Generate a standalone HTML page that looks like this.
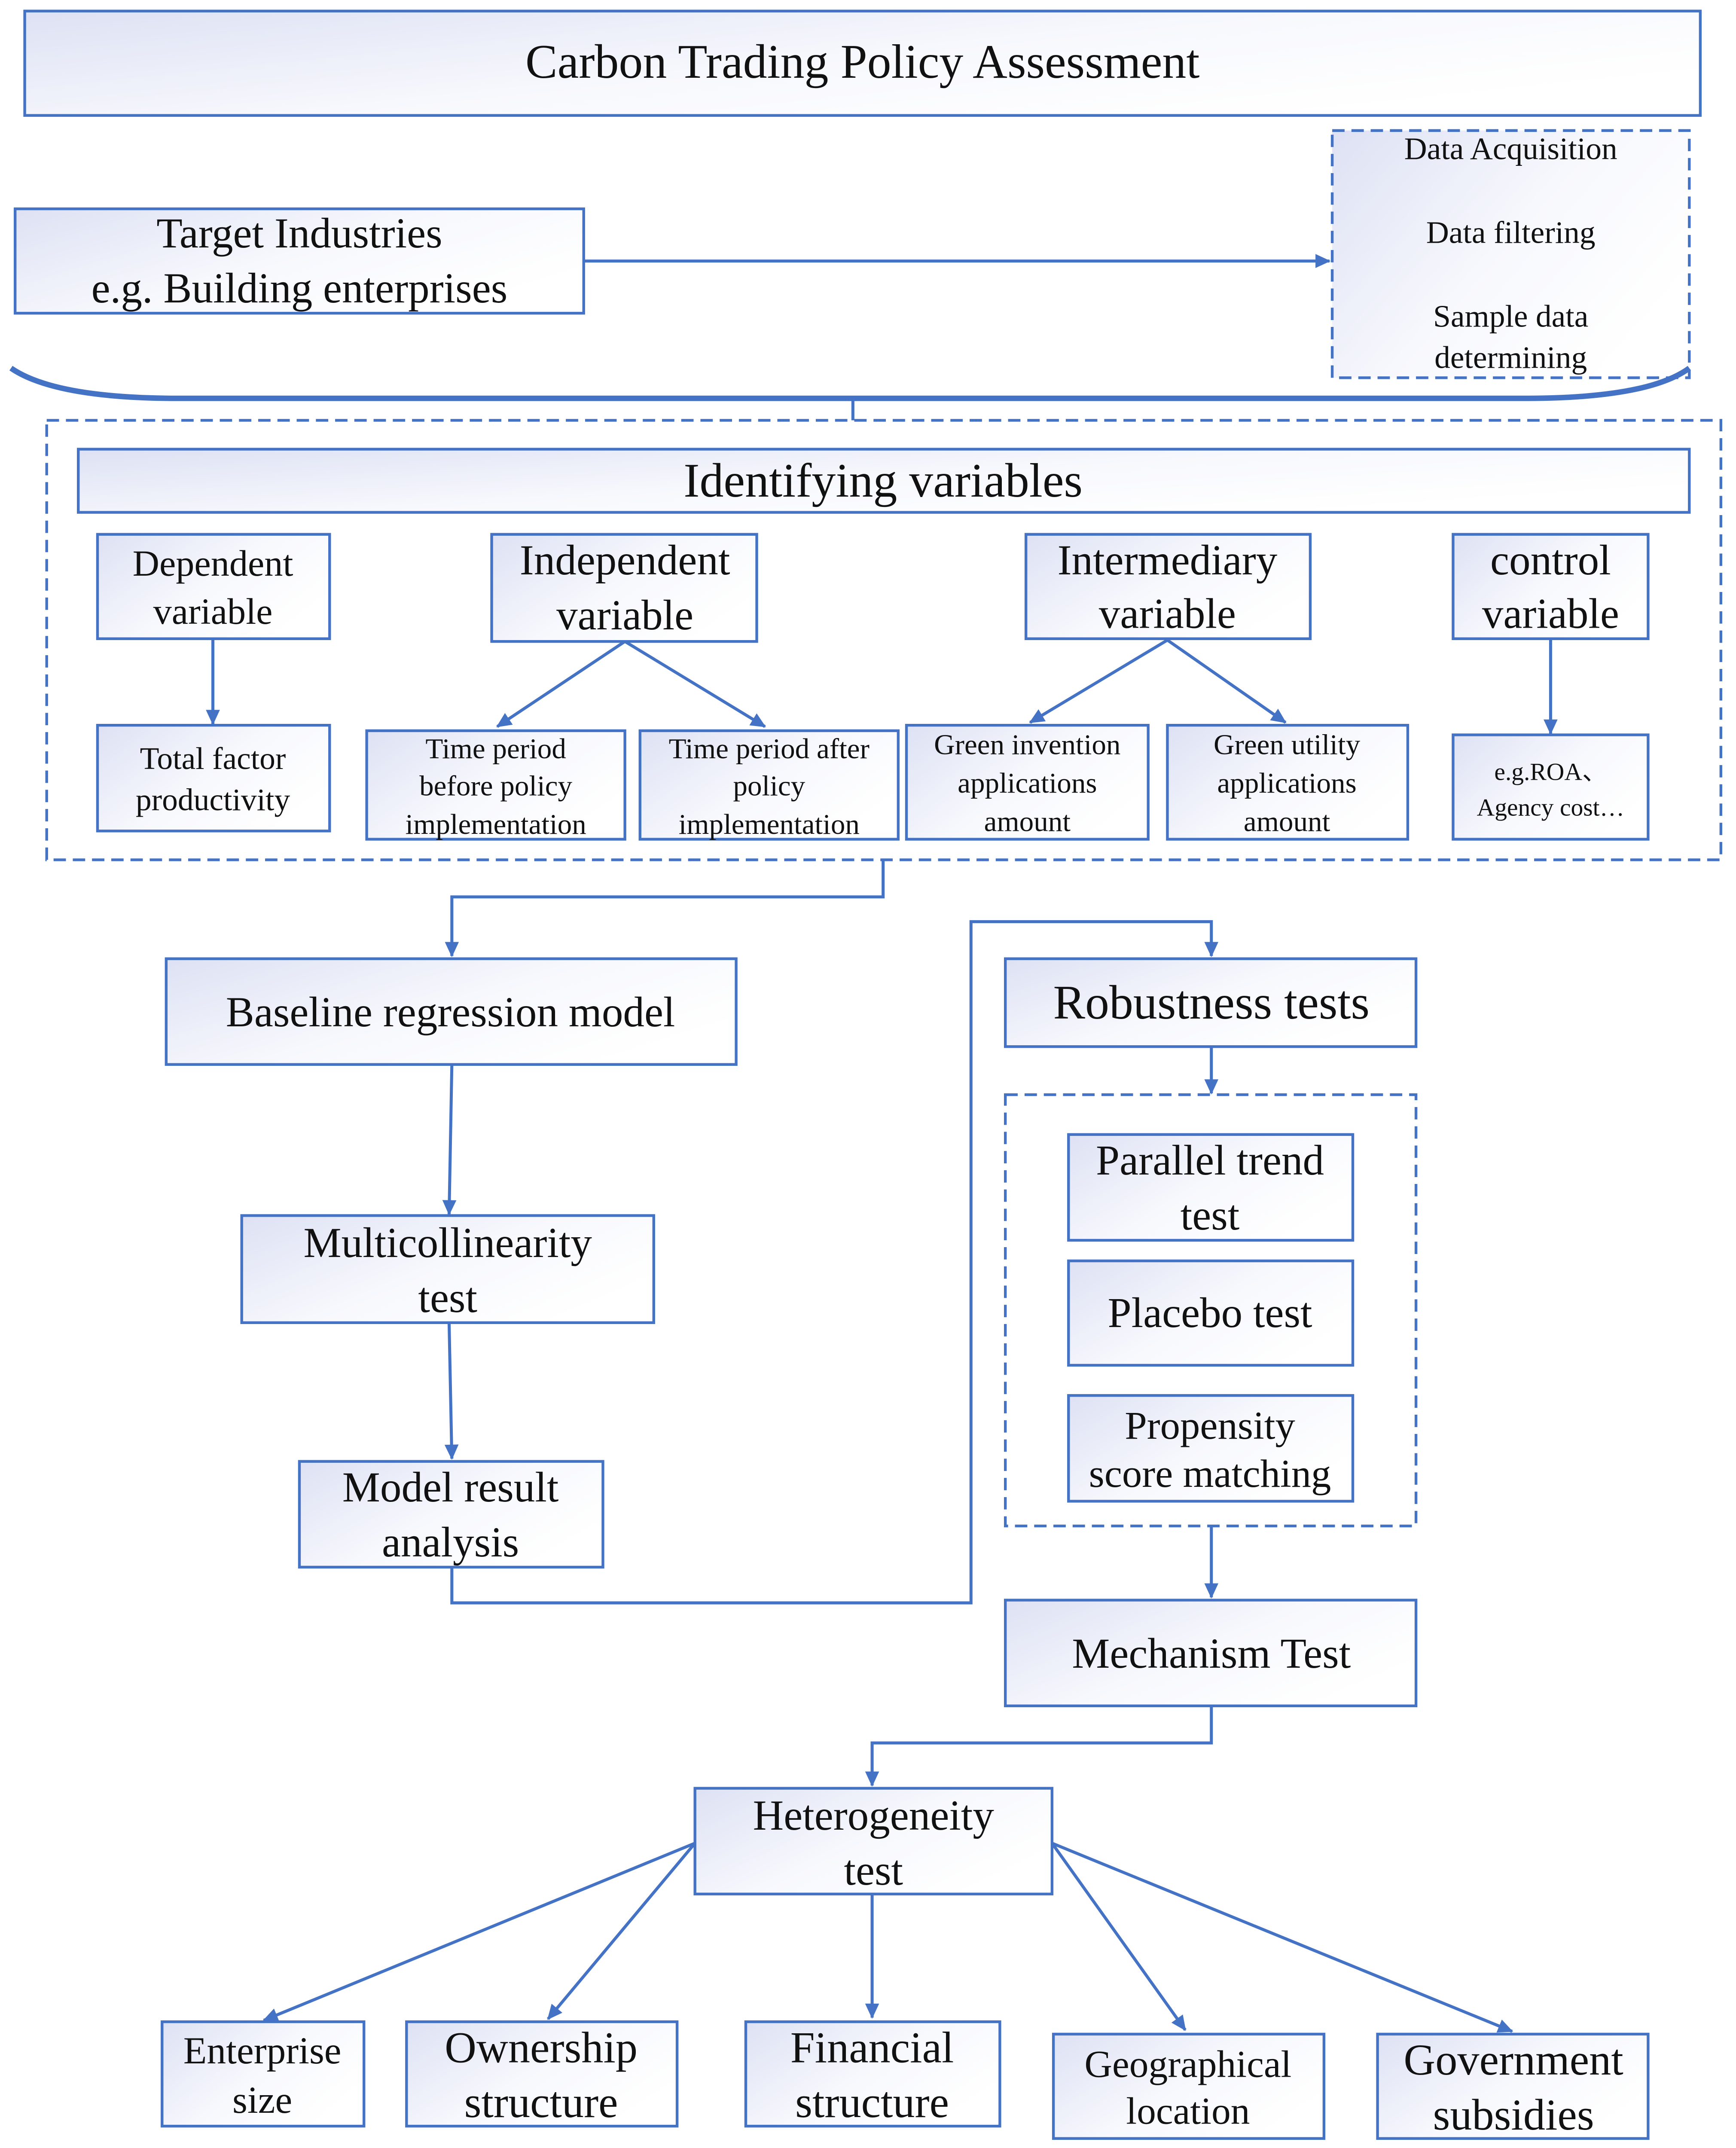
<!DOCTYPE html>
<html><head><meta charset="utf-8"><style>html,body{margin:0;padding:0;background:#fff;width:4041px;height:5010px;overflow:hidden}svg{display:block}</style></head><body>
<svg xmlns="http://www.w3.org/2000/svg" width="4041" height="5010" viewBox="0 0 1264 1567">
<defs>
<linearGradient id="g" x1="0" y1="0" x2="1" y2="0.6">
<stop offset="0" stop-color="#dde1f3"/><stop offset="0.55" stop-color="#f7f8fd"/><stop offset="1" stop-color="#ffffff"/></linearGradient>
<marker id="a" viewBox="0 0 10 10" refX="9" refY="5" markerWidth="8.5" markerHeight="8.5" orient="auto" markerUnits="userSpaceOnUse" overflow="visible">
<path d="M-3,-1 L10,5 L-3,11 Z" fill="#4472C4"/></marker>
</defs>
<style>
.b{fill:url(#g);stroke:#4472C4;stroke-width:2}
.d{fill:none;stroke:#4472C4;stroke-width:2;stroke-dasharray:9,5}
.l{fill:none;stroke:#4472C4;stroke-width:2.2}
text{font-family:"Liberation Serif",serif;fill:#111;text-anchor:middle;dominant-baseline:central}
</style>
<rect x="0" y="0" width="1264" height="1567" fill="#fff"/>
<rect class="b" x="18" y="8" width="1220" height="76"/>
<text x="628" y="45" font-size="35">Carbon Trading Policy Assessment</text>
<rect class="b" x="11" y="152" width="414" height="76"/>
<text x="218" y="170" font-size="31">Target Industries</text>
<text x="218" y="210" font-size="31">e.g. Building enterprises</text>
<line class="l" x1="425" y1="190" x2="968" y2="190" marker-end="url(#a)"/>
<rect class="d" x="970" y="95" width="260" height="180" style="fill:url(#g)"/>
<text x="1100" y="108" font-size="23">Data Acquisition</text>
<text x="1100" y="169" font-size="23">Data filtering</text>
<text x="1100" y="230" font-size="23">Sample data</text>
<text x="1100" y="260" font-size="23">determining</text>
<path d="M8,268 Q40,290 130,290 L1110,290 Q1200,290 1230,268" fill="none" stroke="#4472C4" stroke-width="4"/>
<line class="l" x1="621" y1="290" x2="621" y2="306" stroke-width="3"/>
<rect class="d" x="34" y="306" width="1219" height="320"/>
<rect class="b" x="57" y="327" width="1173" height="46"/>
<text x="643" y="350" font-size="35">Identifying variables</text>
<rect class="b" x="71" y="389" width="169" height="76"/>
<text x="155" y="410" font-size="27">Dependent</text><text x="155" y="445" font-size="27">variable</text>
<rect class="b" x="358" y="389" width="193" height="78"/>
<text x="455" y="408" font-size="31">Independent</text><text x="455" y="448" font-size="31">variable</text>
<rect class="b" x="747" y="389" width="207" height="76"/>
<text x="850" y="408" font-size="31">Intermediary</text><text x="850" y="447" font-size="31">variable</text>
<rect class="b" x="1058" y="389" width="142" height="76"/>
<text x="1129" y="408" font-size="31">control</text><text x="1129" y="447" font-size="31">variable</text>
<line class="l" x1="155" y1="465" x2="155" y2="527" marker-end="url(#a)"/>
<rect class="b" x="71" y="528" width="169" height="77"/>
<text x="155" y="552" font-size="23">Total factor</text><text x="155" y="582" font-size="23">productivity</text>
<line class="l" x1="455" y1="467" x2="362" y2="529" marker-end="url(#a)"/>
<line class="l" x1="455" y1="467" x2="557" y2="529" marker-end="url(#a)"/>
<rect class="b" x="267" y="532" width="188" height="79"/>
<text x="361" y="545" font-size="21">Time period</text><text x="361" y="572" font-size="21">before policy</text><text x="361" y="600" font-size="21">implementation</text>
<rect class="b" x="466" y="532" width="188" height="79"/>
<text x="560" y="545" font-size="21">Time period after</text><text x="560" y="572" font-size="21">policy</text><text x="560" y="600" font-size="21">implementation</text>
<line class="l" x1="850" y1="466" x2="750" y2="526" marker-end="url(#a)"/>
<line class="l" x1="850" y1="466" x2="936" y2="526" marker-end="url(#a)"/>
<rect class="b" x="660" y="528" width="176" height="83"/>
<text x="748" y="542" font-size="21">Green invention</text><text x="748" y="570" font-size="21">applications</text><text x="748" y="598" font-size="21">amount</text>
<rect class="b" x="850" y="528" width="175" height="83"/>
<text x="937" y="542" font-size="21">Green utility</text><text x="937" y="570" font-size="21">applications</text><text x="937" y="598" font-size="21">amount</text>
<line class="l" x1="1129" y1="465" x2="1129" y2="534" marker-end="url(#a)"/>
<rect class="b" x="1058" y="535" width="142" height="76"/>
<text x="1129" y="562" font-size="18">e.g.ROA、</text><text x="1129" y="588" font-size="18">Agency cost…</text>
<polyline class="l" points="643,626 643,653 329,653 329,696" marker-end="url(#a)"/>
<rect class="b" x="121" y="698" width="415" height="77"/>
<text x="328" y="737" font-size="31">Baseline regression model</text>
<line class="l" x1="329" y1="775" x2="327" y2="884" marker-end="url(#a)"/>
<rect class="b" x="176" y="885" width="300" height="78"/>
<text x="326" y="905" font-size="31">Multicollinearity</text><text x="326" y="945" font-size="31">test</text>
<line class="l" x1="327" y1="963" x2="329" y2="1062" marker-end="url(#a)"/>
<rect class="b" x="218" y="1064" width="221" height="77"/>
<text x="328" y="1083" font-size="31">Model result</text><text x="328" y="1123" font-size="31">analysis</text>
<polyline class="l" points="329,1141 329,1167 707,1167 707,671 882,671 882,696" marker-end="url(#a)"/>
<rect class="b" x="732" y="698" width="299" height="64"/>
<text x="882" y="730" font-size="35">Robustness tests</text>
<line class="l" x1="882" y1="762" x2="882" y2="796" marker-end="url(#a)"/>
<rect class="d" x="732" y="797" width="299" height="314"/>
<rect class="b" x="778" y="826" width="207" height="77"/>
<text x="881" y="845" font-size="31">Parallel trend</text><text x="881" y="885" font-size="31">test</text>
<rect class="b" x="778" y="918" width="207" height="76"/>
<text x="881" y="956" font-size="31">Placebo test</text>
<rect class="b" x="778" y="1016" width="207" height="77"/>
<text x="881" y="1038" font-size="29">Propensity</text><text x="881" y="1073" font-size="29">score matching</text>
<line class="l" x1="882" y1="1111" x2="882" y2="1163" marker-end="url(#a)"/>
<rect class="b" x="732" y="1165" width="299" height="77"/>
<text x="882" y="1204" font-size="31">Mechanism Test</text>
<polyline class="l" points="882,1242 882,1269 635,1269 635,1300" marker-end="url(#a)"/>
<rect class="b" x="506" y="1302" width="260" height="77"/>
<text x="636" y="1322" font-size="31">Heterogeneity</text><text x="636" y="1362" font-size="31">test</text>
<line class="l" x1="506" y1="1342" x2="192" y2="1471" marker-end="url(#a)"/>
<line class="l" x1="506" y1="1342" x2="399" y2="1470" marker-end="url(#a)"/>
<line class="l" x1="635" y1="1379" x2="635" y2="1469" marker-end="url(#a)"/>
<line class="l" x1="766" y1="1342" x2="863" y2="1478" marker-end="url(#a)"/>
<line class="l" x1="766" y1="1342" x2="1101" y2="1479" marker-end="url(#a)"/>
<rect class="b" x="118" y="1472" width="147" height="76"/>
<text x="191" y="1493" font-size="28">Enterprise</text><text x="191" y="1529" font-size="28">size</text>
<rect class="b" x="296" y="1472" width="197" height="76"/>
<text x="394" y="1491" font-size="32">Ownership</text><text x="394" y="1531" font-size="32">structure</text>
<rect class="b" x="543" y="1472" width="185" height="76"/>
<text x="635" y="1491" font-size="32">Financial</text><text x="635" y="1531" font-size="32">structure</text>
<rect class="b" x="767" y="1481" width="197" height="76"/>
<text x="865" y="1503" font-size="28">Geographical</text><text x="865" y="1537" font-size="28">location</text>
<rect class="b" x="1003" y="1481" width="197" height="76"/>
<text x="1102" y="1500" font-size="32">Government</text><text x="1102" y="1540" font-size="32">subsidies</text>
</svg>
</body></html>
